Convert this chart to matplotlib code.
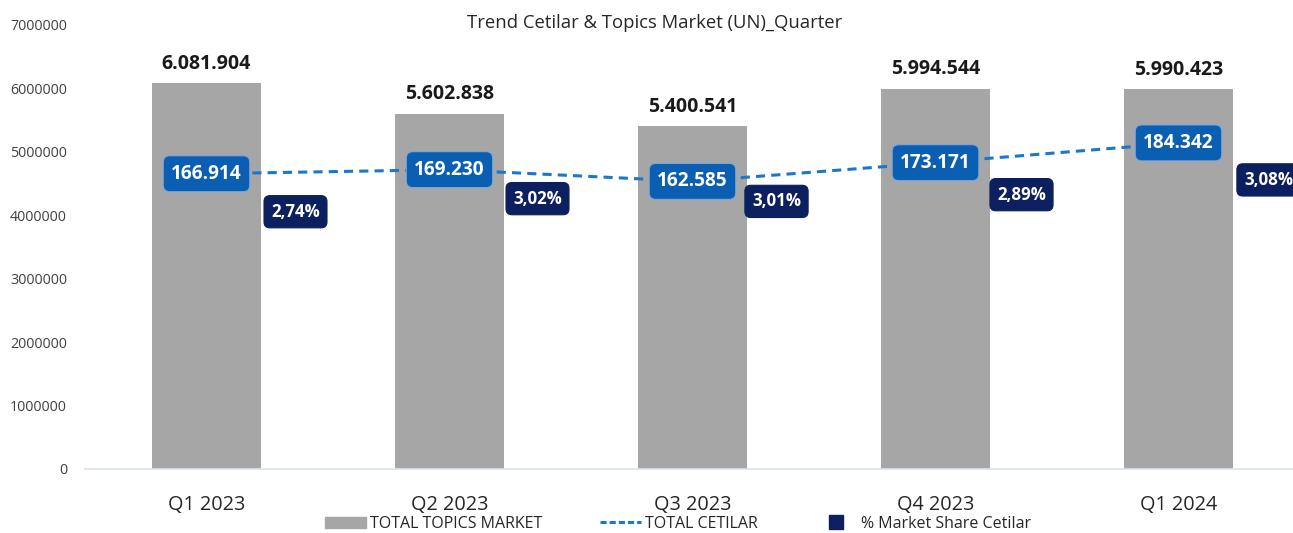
import matplotlib.pyplot as plt
from matplotlib.patches import Patch
from matplotlib.lines import Line2D

quarters = ["Q1 2023", "Q2 2023", "Q3 2023", "Q4 2023", "Q1 2024"]
topics_market = [6081904, 5602838, 5400541, 5994544, 5990423]
cetilar = [166914, 169230, 162585, 173171, 184342]
share_labels = ["2,74%", "3,02%", "3,01%", "2,89%", "3,08%"]

# pixel offsets of the share boxes from the line points
share_dx = [89, 88, 84, 86, 90]
share_dy = [-38, -29, -20, -32, -37]

plt.rcParams['font.family'] = ['Open Sans', 'DejaVu Sans']

BAR = "#a6a6a6"
BLUE = "#0b5fb3"
LINE = "#1a78cc"
NAVY = "#0c1f5e"


def fmt_dot(v):
    return f"{v:,}".replace(",", ".")


def main():
    fig = plt.figure(figsize=(12.93, 5.33), dpi=100)
    ax = fig.add_axes([85 / 1293, 1 - 469 / 533, (1300 - 85) / 1293, (469 - 25) / 533])
    x = list(range(len(quarters)))

    ax.bar(x, topics_market, width=0.445, color=BAR, zorder=2)
    ax.set_ylim(0, 7000000)
    ax.set_xlim(-0.5, 4.5)
    ax.set_yticks(range(0, 7000001, 1000000))
    ax.set_yticklabels([str(v) for v in range(0, 7000001, 1000000)])
    ax.tick_params(axis='y', length=0, labelsize=10.3, labelcolor="#404040", pad=13)
    ax.set_xticks(x)
    ax.set_xticklabels(quarters)
    ax.tick_params(axis='x', length=0, labelsize=14.3, labelcolor="#262626", pad=19)
    for s in ["top", "right", "left"]:
        ax.spines[s].set_visible(False)
    ax.spines["bottom"].set_color("#d9e1f2")
    ax.spines["bottom"].set_linewidth(1.2)

    for xi, v in zip(x, topics_market):
        ax.annotate(fmt_dot(v), (xi, v), xytext=(0, 14), textcoords="offset points",
                    ha="center", va="center", fontsize=14, fontweight="bold", color="#1a1a1a")

    ax2 = ax.twinx()
    ax2.set_ylim(0, 251000)
    ax2.axis("off")
    ax2.plot(x, cetilar, color=LINE, linestyle=(0, (3, 2)), linewidth=2.2, zorder=3)

    for xi, v, lab, dx, dy in zip(x, cetilar, share_labels, share_dx, share_dy):
        ax2.annotate(fmt_dot(v), (xi, v), ha="center", va="center", fontsize=13.7,
                     fontweight="bold", color="white", zorder=5,
                     bbox=dict(boxstyle="round,pad=0.42,rounding_size=0.35", fc=BLUE, ec="#7fa8d8", lw=0.8))
        ax2.annotate(lab, (xi, v), xytext=(dx * 0.72, dy * 0.72), textcoords="offset points",
                     ha="center", va="center", fontsize=12.2, fontweight="bold", color="white",
                     zorder=5, annotation_clip=False,
                     bbox=dict(boxstyle="round,pad=0.42,rounding_size=0.35", fc=NAVY, ec=NAVY, lw=0.8))

    fig.text(655 / 1293, 1 - 23 / 533, "Trend Cetilar & Topics Market (UN)_Quarter",
             ha="center", va="center", fontsize=13.3, color="#262626")

    handles = [Patch(color=BAR),
               Line2D([0], [0], color=LINE, linestyle=(0, (2, 1)), linewidth=2.2),
               Line2D([0], [0], color=NAVY, marker="s", markersize=10, linestyle="none")]
    labels = ["TOTAL TOPICS MARKET", "TOTAL CETILAR", "% Market Share Cetilar"]
    fig.legend(handles, labels, loc="center", bbox_to_anchor=(678 / 1293, 1 - 524 / 533),
               ncol=3, frameon=False, fontsize=11.5, handlelength=2.6, handletextpad=0.25,
               columnspacing=3.6, labelcolor="#262626")

    fig.savefig("out.png", dpi=100)


if __name__ == "__main__":
    main()
